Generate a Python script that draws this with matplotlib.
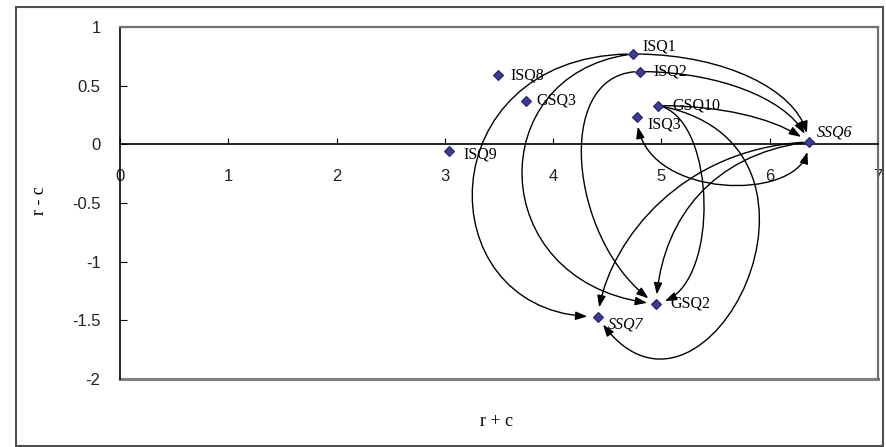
import numpy as np
import matplotlib
matplotlib.use("Agg")
import matplotlib.pyplot as plt
from matplotlib.path import Path
from matplotlib.patches import FancyArrowPatch, Rectangle

# r + c (x) and r - c (y) for every item
names = ["ISQ1", "ISQ2", "ISQ8", "GSQ3", "GSQ10", "ISQ3", "ISQ9", "SSQ6", "SSQ7", "GSQ2"]
r_plus_c = [4.74, 4.80, 3.49, 3.75, 4.97, 4.77, 3.04, 6.36, 4.41, 4.95]
r_minus_c = [0.77, 0.62, 0.59, 0.37, 0.33, 0.23, -0.06, 0.02, -1.47, -1.36]

# cause -> effect links
links = [("ISQ1", "SSQ6"), ("ISQ2", "SSQ6"), ("GSQ10", "SSQ6"),
         ("SSQ6", "ISQ3"),
         ("ISQ1", "SSQ7"), ("ISQ1", "GSQ2"), ("ISQ2", "GSQ2"),
         ("SSQ6", "SSQ7"), ("SSQ6", "GSQ2"),
         ("GSQ10", "GSQ2"), ("GSQ10", "SSQ7")]
two_way = [("SSQ6", "ISQ3")]

# shape of each curve: handle offsets at start / end (data units)
bends = [((0.89, 0.0), (-0.05, 0.41)), ((0.75, 0.0), (-0.15, 0.35)), ((0.6, 0.0), (-0.3, 0.2)),
         ((0.02, -0.52), (0.05, -0.73)),
         ((-1.92, 0.0), (-1.59, 0.0)), ((-1.41, -0.15), (-1.6, 0.15)), ((-0.82, 0.0), (-0.8, 0.5)),
         ((-1.2, -0.05), (0.09, 0.62)), ((-0.9, -0.1), (0.05, 0.71)),
         ((0.55, -0.1), (0.6, 0.1)), ((1.95, -0.33), (0.95, -1.32))]

# label offsets in pixels
lab_off = {"ISQ1": (9, 7), "ISQ2": (14, 0), "ISQ8": (13, 0), "GSQ3": (10, 0),
           "GSQ10": (14, 0), "ISQ3": (11, -7), "ISQ9": (14, -3), "SSQ6": (8, 9),
           "SSQ7": (10, -8), "GSQ2": (14, 0)}

W, H = 886, 447
fig = plt.figure(figsize=(W / 100, H / 100), dpi=100)
fig.patches.append(Rectangle((16 / W, 1 / H), (883 - 16) / W, (440 - 1) / H,
                             transform=fig.transFigure, fill=False, ec="#505050", lw=1.5))
ax = fig.add_axes([120 / W, 1 - 379 / H, (878 - 120) / W, (379 - 27) / H])
ax.set_xlim(0, 7)
ax.set_ylim(-2, 1)
ax.set_xticks(range(8))
ax.set_yticks([-2, -1.5, -1, -0.5, 0, 0.5, 1])
ax.set_yticklabels(["-2", "-1.5", "-1", "-0.5", "0", "0.5", "1"])
ax.spines["bottom"].set_position(("data", 0))
for s in ["bottom", "left"]:
    ax.spines[s].set_color("black")
    ax.spines[s].set_linewidth(1.2)
for s in ["top", "right"]:
    ax.spines[s].set_color("#707070")
    ax.spines[s].set_linewidth(1.6)
ax.plot([0, 1], [0, 0], transform=ax.transAxes, color="#808080", lw=2.2, clip_on=False)
ax.tick_params(axis="x", direction="in", length=4, pad=18, labelsize=12, labelcolor="#222222")
ax.tick_params(axis="y", direction="in", length=5, pad=14, labelsize=12, labelcolor="#222222")
for lab in ax.get_xticklabels() + ax.get_yticklabels():
    lab.set_family("Liberation Sans")

pos = {n: np.array([x, y]) for n, x, y in zip(names, r_plus_c, r_minus_c)}


def split(p, t):
    p0, p1, p2, p3 = p
    a = p0 + (p1 - p0) * t
    b = p1 + (p2 - p1) * t
    c = p2 + (p3 - p2) * t
    d = a + (b - a) * t
    e = b + (c - b) * t
    f = d + (e - d) * t
    return [p0, a, d, f], [f, e, c, p3]


def point(p, t):
    p0, p1, p2, p3 = p
    return ((1 - t) ** 3)[:, None] * p0 + (3 * (1 - t) ** 2 * t)[:, None] * p1 \
        + (3 * (1 - t) * t ** 2)[:, None] * p2 + (t ** 3)[:, None] * p3


ts = np.linspace(0, 1, 400)
for (a, b), (oa, ob) in zip(links, bends):
    both = (a, b) in two_way
    p = [pos[a], pos[a] + np.array(oa), pos[b] + np.array(ob), pos[b]]
    px = ax.transData.transform(point(p, ts))
    da = np.hypot(*(px - px[0]).T)
    db = np.hypot(*(px - px[-1]).T)
    gap_a = 10 if both else 5
    t0 = ts[np.argmax(da > gap_a)]
    t1 = ts[len(ts) - 1 - np.argmax(db[::-1] > 9)]
    _, right = split(p, t0)
    sub, _ = split(right, (t1 - t0) / (1 - t0))
    path = Path(np.array(sub), [Path.MOVETO, Path.CURVE4, Path.CURVE4, Path.CURVE4])
    style = "<|-|>" if both else "-|>"
    arr = FancyArrowPatch(path=path, arrowstyle=style + ",head_length=0.5,head_width=0.18",
                          mutation_scale=14, lw=1.0, color="black", zorder=2)
    ax.add_patch(arr)

ax.plot(r_plus_c, r_minus_c, "D", ms=5.2, mfc="#3b3b98", mec="#23236e", mew=0.8, zorder=3)
for n, x, y in zip(names, r_plus_c, r_minus_c):
    style = "italic" if n.startswith("SSQ") else "normal"
    ax.annotate(n, (x, y), xytext=lab_off[n], textcoords="offset pixels",
                ha="left", va="center", fontsize=11.5, family="Liberation Serif",
                style=style, zorder=4)

fig.text(497 / W, 1 - 421 / H, "r + c", ha="center", va="center", fontsize=13,
         family="Liberation Serif")
fig.text(40 / W, 1 - 201 / H, "r - c", ha="center", va="center", fontsize=13,
         family="Liberation Serif", rotation=90)

fig.savefig("out.png", dpi=100)
